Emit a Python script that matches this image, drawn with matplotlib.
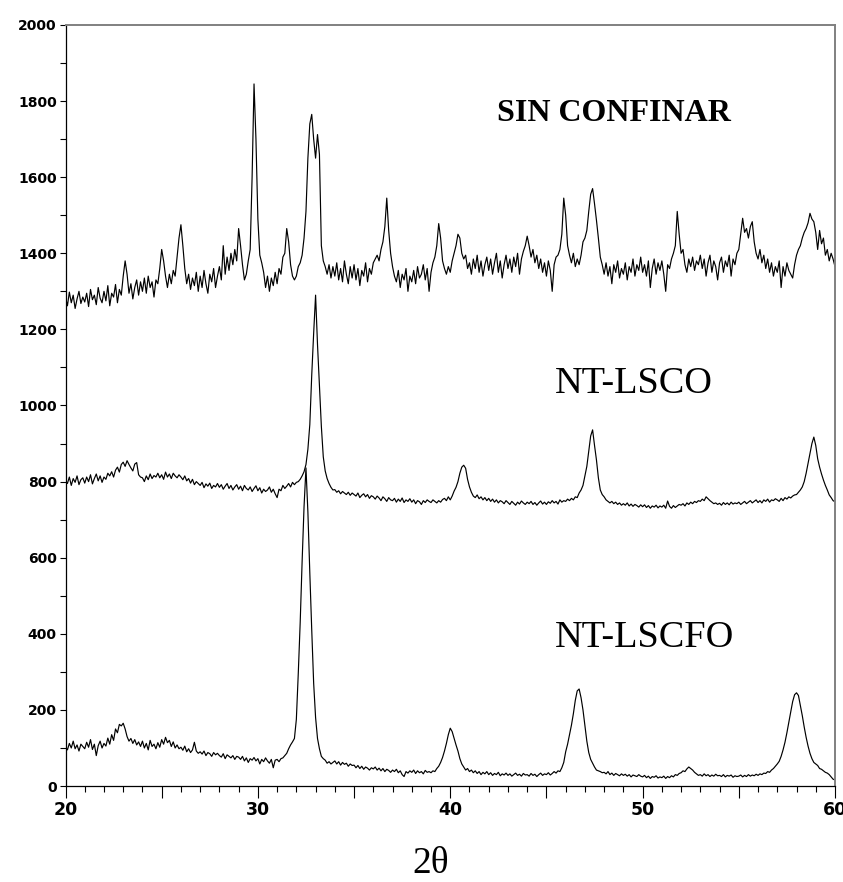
import numpy as np
import matplotlib
matplotlib.use("Agg")
import matplotlib.pyplot as plt
from matplotlib.ticker import MultipleLocator, FuncFormatter

# 2-theta scan, 0.1 deg step from 20 to 60
two_theta = np.linspace(20, 60, 401)

# intensities (counts), one row per degree
sin_confinar = [
    1285, 1262, 1298, 1270, 1290, 1255, 1280, 1300, 1268, 1285,
    1272, 1295, 1260, 1305, 1278, 1290, 1265, 1310, 1282, 1270,
    1300, 1275, 1315, 1262, 1295, 1285, 1318, 1270, 1305, 1290,
    1340, 1380, 1345, 1295, 1320, 1280, 1310, 1330, 1290, 1325,
    1300, 1335, 1295, 1340, 1310, 1325, 1285, 1330, 1320, 1360,
    1410, 1380, 1340, 1310, 1345, 1320, 1355, 1340, 1390, 1440,
    1475, 1420, 1360, 1320, 1345, 1305, 1335, 1315, 1350, 1300,
    1340, 1310, 1355, 1320, 1295, 1345, 1325, 1360, 1310, 1340,
    1365, 1330, 1420, 1345, 1390, 1355, 1400, 1370, 1410, 1380,
    1465, 1420, 1370, 1330, 1345, 1380, 1410, 1600, 1845, 1700,
    1490, 1395, 1375, 1350, 1310, 1340, 1300, 1335, 1315, 1350,
    1320, 1360, 1345, 1390, 1400, 1465, 1430, 1370, 1340, 1330,
    1340, 1365, 1375, 1395, 1440, 1510, 1650, 1740, 1765, 1700,
    1650, 1712, 1660, 1420, 1380, 1365, 1345, 1370, 1335, 1365,
    1340, 1375, 1330, 1360, 1325, 1380, 1345, 1320, 1365, 1335,
    1370, 1330, 1360, 1315, 1355, 1340, 1375, 1325, 1360, 1345,
    1375, 1385, 1395, 1380, 1410, 1430, 1470, 1545, 1460, 1400,
    1365, 1340, 1325, 1355, 1310, 1345, 1330, 1360, 1300, 1340,
    1325, 1355, 1320, 1365, 1335, 1345, 1370, 1330, 1360, 1300,
    1350, 1375, 1390, 1420, 1478, 1440, 1380, 1360, 1345, 1365,
    1350, 1380, 1400, 1420, 1450, 1440, 1400, 1385, 1395, 1360,
    1375, 1345, 1385, 1360, 1395, 1350, 1380, 1340, 1370, 1390,
    1355, 1385, 1345, 1375, 1400, 1350, 1380, 1335, 1370, 1395,
    1360, 1385, 1350, 1390, 1365, 1400, 1345, 1385, 1405, 1420,
    1445, 1420, 1390, 1410, 1375, 1395, 1360, 1385, 1350, 1375,
    1340, 1380, 1355, 1300, 1370, 1390, 1395, 1410, 1450, 1545,
    1500, 1420, 1395, 1375, 1400, 1365, 1385, 1370, 1395, 1430,
    1440, 1460, 1510, 1555, 1570, 1530, 1487, 1440, 1390, 1370,
    1345, 1375, 1340, 1365, 1320, 1370, 1350, 1380, 1335, 1360,
    1345, 1375, 1330, 1365, 1350, 1385, 1340, 1370, 1355, 1390,
    1350, 1370, 1340, 1380, 1310, 1360, 1385, 1345, 1375, 1355,
    1380, 1345, 1300, 1370, 1360, 1385, 1400, 1420, 1510, 1450,
    1400, 1410, 1370, 1350, 1385, 1365, 1390, 1355, 1380, 1370,
    1395, 1360, 1385, 1340, 1375, 1395, 1350, 1380, 1365, 1330,
    1375, 1390, 1350, 1380, 1365, 1395, 1340, 1385, 1370, 1400,
    1410, 1450, 1492, 1455, 1465, 1440, 1470, 1483, 1430, 1400,
    1385, 1410, 1375, 1395, 1360, 1385, 1350, 1375, 1340, 1365,
    1350, 1380, 1310, 1365, 1340, 1375, 1355, 1345, 1335, 1370,
    1395, 1410, 1420, 1440, 1455, 1465, 1480, 1505, 1490, 1483,
    1455, 1410, 1460, 1425, 1440, 1395, 1410, 1380, 1400, 1385,
    1365,
]

nt_lsco = [
    804, 795, 812, 790, 808, 798, 815, 792, 805, 810,
    796, 812, 800, 818, 794, 808, 820, 802, 815, 798,
    812, 806, 822, 815, 826, 812, 830, 838, 825, 845,
    851, 840, 855, 845, 836, 828, 846, 850, 818, 812,
    810, 800, 815, 805, 820, 808, 816, 812, 822, 810,
    818, 806, 825, 812, 820, 808, 822, 815, 810, 818,
    812, 805, 815, 802, 808, 796, 806, 792, 800, 795,
    790, 798, 784, 794, 788, 796, 782, 790, 786, 795,
    785, 792, 780, 788, 795, 782, 790, 778, 786, 792,
    780, 788, 776, 790, 782, 778, 786, 774, 782, 789,
    776, 784, 770, 780, 774, 778, 786, 772, 780, 768,
    758, 780, 776, 790, 782, 788, 795, 786, 798, 792,
    798, 800, 806, 815, 826, 845, 885, 950, 1080, 1190,
    1290, 1160, 1055, 945, 865, 828, 808, 795, 785, 778,
    779, 772, 776, 768, 774, 770, 766, 772, 764, 770,
    766, 762, 770, 758, 764, 768, 760, 766, 756, 763,
    760, 754, 762, 757, 750, 760, 755, 748, 758, 752,
    750, 756, 746, 754, 748, 757, 745, 752, 748, 755,
    746, 752, 742, 750, 747, 740, 750, 745, 752, 748,
    745, 752, 748, 744, 750, 746, 753, 756, 750, 760,
    752, 762, 775, 785, 800, 822, 838, 843, 835, 806,
    786, 772, 762, 758, 765, 755, 760, 752, 758, 750,
    756, 748, 754, 746, 752, 744, 750, 747, 742, 750,
    745, 740, 748, 743, 738, 746, 741, 749, 744, 740,
    746, 742, 748, 740, 745, 738, 744, 749, 741, 746,
    740, 747, 743, 750, 744, 748, 741, 752, 746, 750,
    748, 754, 750, 756, 752, 760, 758, 770, 778, 790,
    815, 840, 880, 920, 936, 895, 857, 810, 778, 766,
    760, 752, 748, 744, 748, 742, 746, 740, 744, 738,
    742, 738, 744, 736, 741, 735, 740, 737, 733, 739,
    734, 739, 732, 737, 730, 736, 733, 738, 731, 736,
    733, 738, 730, 749, 735, 730, 737, 732, 736, 740,
    738, 742, 736, 744, 740, 746, 742, 748, 745, 750,
    748, 754, 750, 760, 755, 750, 746, 742, 744, 740,
    743, 738, 745, 740, 744, 739, 746, 741, 744, 742,
    746, 740, 744, 748, 742, 746, 750, 744, 748, 752,
    745, 750, 744, 752, 748, 754, 746, 752, 750, 755,
    752, 748, 756, 750, 758, 754, 760, 757, 762, 765,
    766, 772, 778, 786, 800, 822, 848, 875, 900, 917,
    895, 860, 838, 820, 804, 790, 778, 765, 758, 750,
    747,
]

nt_lscfo = [
    103, 95, 112, 100, 118, 98, 108, 92, 110, 104,
    98, 115, 102, 122, 96, 110, 80, 106, 118, 100,
    112, 105, 126, 110, 135, 120, 150, 140, 162, 158,
    165, 150, 130, 118, 125, 112, 122, 108, 116, 104,
    118, 100, 112, 95, 120, 104, 110, 98, 114, 102,
    122, 110, 128, 114, 120, 104, 116, 100, 108, 98,
    102, 94, 105, 90, 98, 88, 95, 115, 92, 86,
    90, 84, 92, 80, 88, 85, 78, 88, 82, 86,
    80, 76, 85, 72, 82, 78, 74, 80, 70, 78,
    76, 70, 78, 66, 74, 62, 72, 68, 75, 66,
    72, 58, 70, 64, 74, 66, 60, 70, 48, 68,
    70, 64, 72, 74, 80, 86, 98, 108, 116, 125,
    175, 296, 430, 590, 734, 836, 720, 560, 410, 270,
    180, 125, 98, 78, 72, 68, 60, 64, 58, 62,
    66, 58, 64, 55, 62, 57, 60, 52, 58, 54,
    55, 48, 54, 46, 52, 44, 50, 47, 42, 48,
    45, 50, 42, 47, 40, 46, 38, 44, 41, 36,
    42, 38, 44, 35, 40, 30, 25, 38, 34, 40,
    36, 42, 33, 40, 35, 38, 32, 41, 36, 38,
    35, 40, 38, 46, 52, 62, 75, 92, 112, 135,
    152, 143, 125, 108, 92, 72, 58, 50, 42, 46,
    38, 42, 35, 40, 33, 38, 30, 36, 32, 38,
    30, 35, 28, 33, 30, 36, 27, 32, 29, 34,
    28, 32, 26, 30, 34, 28, 31, 26, 33, 29,
    30, 26, 33, 28, 31, 25, 30, 34, 28, 32,
    30, 35, 29, 33, 38, 34, 40, 38, 48, 62,
    90, 110, 135, 160, 190, 225, 250, 255, 232, 200,
    158, 118, 88, 70, 60, 50, 42, 40, 38, 35,
    36, 32, 38, 30, 34, 28, 33, 30, 27, 32,
    28, 31, 26, 30, 24, 29, 27, 25, 30, 26,
    24, 28, 22, 26, 20, 25, 23, 27, 21, 24,
    22, 26, 20, 25, 22, 27, 24, 30, 28, 33,
    35, 40, 38, 45, 50, 46, 42, 36, 32, 28,
    30, 26, 32, 27, 30, 25, 29, 26, 31, 27,
    28, 25, 30, 24, 28, 26, 29, 23, 27, 25,
    26, 29, 24, 28, 25, 30, 26, 29, 27, 31,
    28, 32, 30, 34, 33, 38, 36, 42, 46, 52,
    58, 65, 78, 95, 115, 140, 168, 195, 222, 240,
    245, 238, 212, 185, 155, 128, 105, 86, 72, 62,
    58, 54, 46, 44, 40, 36, 34, 30, 24, 18,
    16,
]

fig = plt.figure(figsize=(8.43, 8.82), dpi=100)
ax = fig.add_axes([0.0777, 0.1088, 0.9128, 0.8629])

for y in (sin_confinar, nt_lsco, nt_lscfo):
    ax.plot(two_theta, y, color="black", lw=0.85)

ax.set_xlim(20, 60)
ax.set_ylim(0, 2000)

# axes frame: dark left/bottom, grey top/right
for side in ("left", "bottom"):
    ax.spines[side].set_color("black")
    ax.spines[side].set_linewidth(0.9)
for side in ("top", "right"):
    ax.spines[side].set_color("#808080")
    ax.spines[side].set_linewidth(1.4)

ax.xaxis.set_major_locator(MultipleLocator(5))
ax.xaxis.set_minor_locator(MultipleLocator(1))
ax.xaxis.set_major_formatter(FuncFormatter(lambda v, p: f"{v:.0f}" if v % 10 == 0 else ""))
ax.yaxis.set_major_locator(MultipleLocator(200))
ax.yaxis.set_minor_locator(MultipleLocator(100))

ax.tick_params(axis="x", which="major", direction="out", length=8.5, width=0.8, pad=2)
ax.tick_params(axis="x", which="minor", direction="out", length=4.3, width=0.8)
ax.tick_params(axis="y", which="both", direction="out", length=4.3, width=0.8, pad=2)

for lab in ax.get_xticklabels():
    lab.set_fontfamily("DejaVu Sans")
    lab.set_fontweight("bold")
    lab.set_fontsize(12.5)
for lab in ax.get_yticklabels():
    lab.set_fontfamily("DejaVu Sans")
    lab.set_fontweight("bold")
    lab.set_fontsize(10)

ax.text(42.43, 1748, "SIN CONFINAR", family="Liberation Serif", weight="bold",
        fontsize=23, ha="left", va="baseline")
ax.text(45.44, 1033, "NT-LSCO", family="Liberation Serif", fontsize=27.5,
        ha="left", va="baseline")
ax.text(45.44, 365, "NT-LSCFO", family="Liberation Serif", fontsize=27.5,
        ha="left", va="baseline")

fig.text(431 / 843, (882 - 864) / 882, "2θ", family="Liberation Serif",
         fontsize=27, ha="center", va="center")

fig.savefig("out.png", dpi=100)
